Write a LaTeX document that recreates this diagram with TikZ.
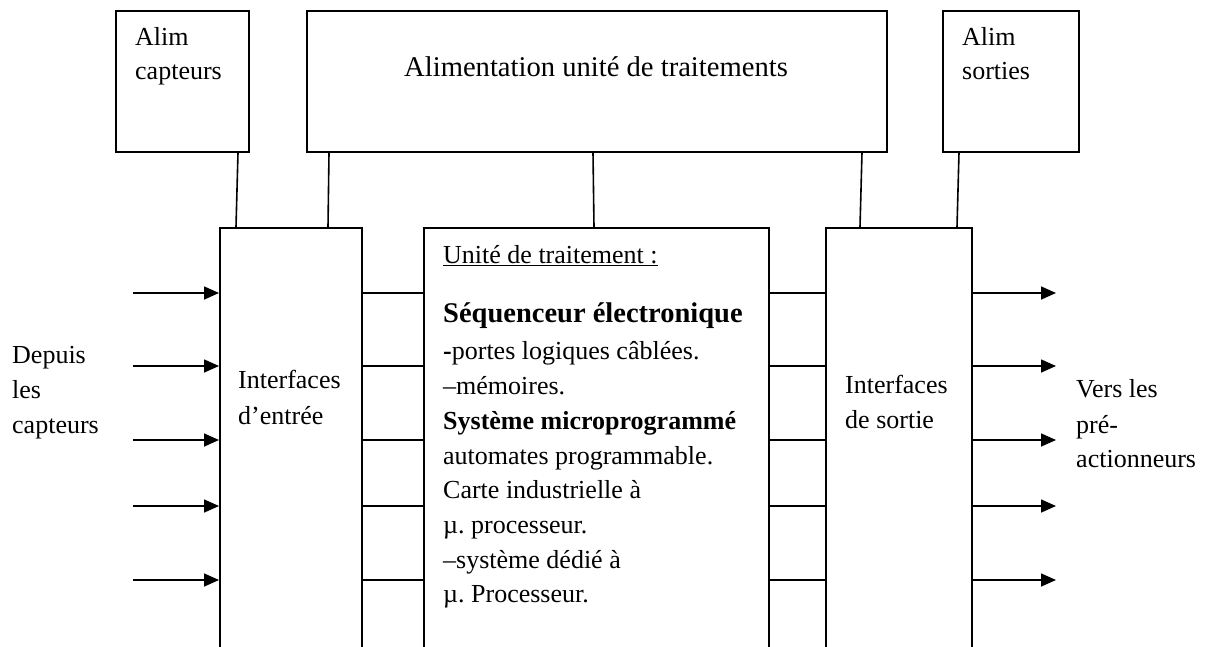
\documentclass[tikz,border=0pt]{standalone}
\usepackage{fontspec}
\setmainfont{Liberation Serif}
\usetikzlibrary{arrows.meta,calc}
\frenchspacing
\begin{document}
\begin{tikzpicture}[x=1pt,y=-1pt,
  box/.style={draw,line width=1.6pt,inner sep=0pt,anchor=north west},
  wire/.style={line width=1.6pt},
  arr/.style={line width=1.6pt,-{Triangle[length=15pt,width=13pt]}},
  txt/.style={anchor=base west,inner sep=0pt,font=\fontsize{26}{30}\selectfont}]
\useasboundingbox (0,0) rectangle (1205,646);
% boxes
\node[box,minimum width=133pt,minimum height=141pt] (capt) at (115,10) {};
\node[box,minimum width=580pt,minimum height=141pt] (alim) at (306,10) {};
\node[box,minimum width=136pt,minimum height=141pt] (sort) at (942,10) {};
\node[box,minimum width=142pt,minimum height=440pt] (ie) at (219,227) {};
\node[box,minimum width=345pt,minimum height=440pt] (ut) at (423,227) {};
\node[box,minimum width=146pt,minimum height=440pt] (is) at (825,227) {};
% vertical connectors
\draw[wire] ([xshift=123pt]capt.south west) -- ([xshift=17pt]ie.north west);
\draw[wire] ([xshift=23pt]alim.south west) -- ([xshift=109pt]ie.north west);
\draw[wire] ([xshift=287pt]alim.south west) -- ([xshift=171pt]ut.north west);
\draw[wire] ([xshift=556pt]alim.south west) -- ([xshift=35pt]is.north west);
\draw[wire] ([xshift=17pt]sort.south west) -- ([xshift=132pt]is.north west);
% horizontal signals
\foreach \y [count=\i] in {293,366,440,506,580}{
  \coordinate (in\i) at (133,\y);
  \coordinate (out\i) at (1056,\y);
  \draw[arr] (in\i) -- (in\i -| ie.west);
  \draw[wire] (in\i -| ie.east) -- (in\i -| ut.west);
  \draw[wire] (in\i -| ut.east) -- (in\i -| is.west);
  \draw[arr] (in\i -| is.east) -- (out\i);
}
% texts
\node[txt] (t1) at (135,45) {Alim};
\node[txt] (t2) at (135,79) {capteurs};
\node[txt] (t3) at (962,45) {Alim};
\node[txt] (t4) at (962,79) {sorties};
\node[txt,font=\fontsize{28.6}{32}\selectfont] (t5) at (404,76) {Alimentation unité de traitements};
\node[txt] (t6) at (238,388) {Interfaces};
\node[txt] (t7) at (238,424) {d’entrée};
\node[txt] (t8) at (12,363) {Depuis};
\node[txt] (t9) at (12,398) {les};
\node[txt] (t10) at (12,433) {capteurs};
\node[txt] (t11) at (845,393) {Interfaces};
\node[txt] (t12) at (845,428) {de sortie};
\node[txt] (t13) at (1076,397) {Vers les};
\node[txt] (t14) at (1076,433) {pré-};
\node[txt] (t15) at (1076,467) {actionneurs};
\node[txt] (u1) at (443,263) {\underline{Unité de traitement :}};
\node[txt,font=\fontsize{28.5}{32}\selectfont\bfseries] (u2) at (443,322) {Séquenceur électronique};
\node[txt] (u3) at (443,359) {\textbf{-}portes logiques câblées.};
\node[txt] (u4) at (443,394) {–mémoires.};
\node[txt] (u5) at (443,429) {\textbf{Système microprogrammé}};
\node[txt] (u6) at (443,464) {automates programmable.};
\node[txt] (u7) at (443,498) {Carte industrielle à};
\node[txt] (u8) at (443,533) {µ. processeur.};
\node[txt] (u9) at (443,568) {–système dédié à};
\node[txt] (u10) at (443,602) {µ. Processeur.};
\end{tikzpicture}
\end{document}
